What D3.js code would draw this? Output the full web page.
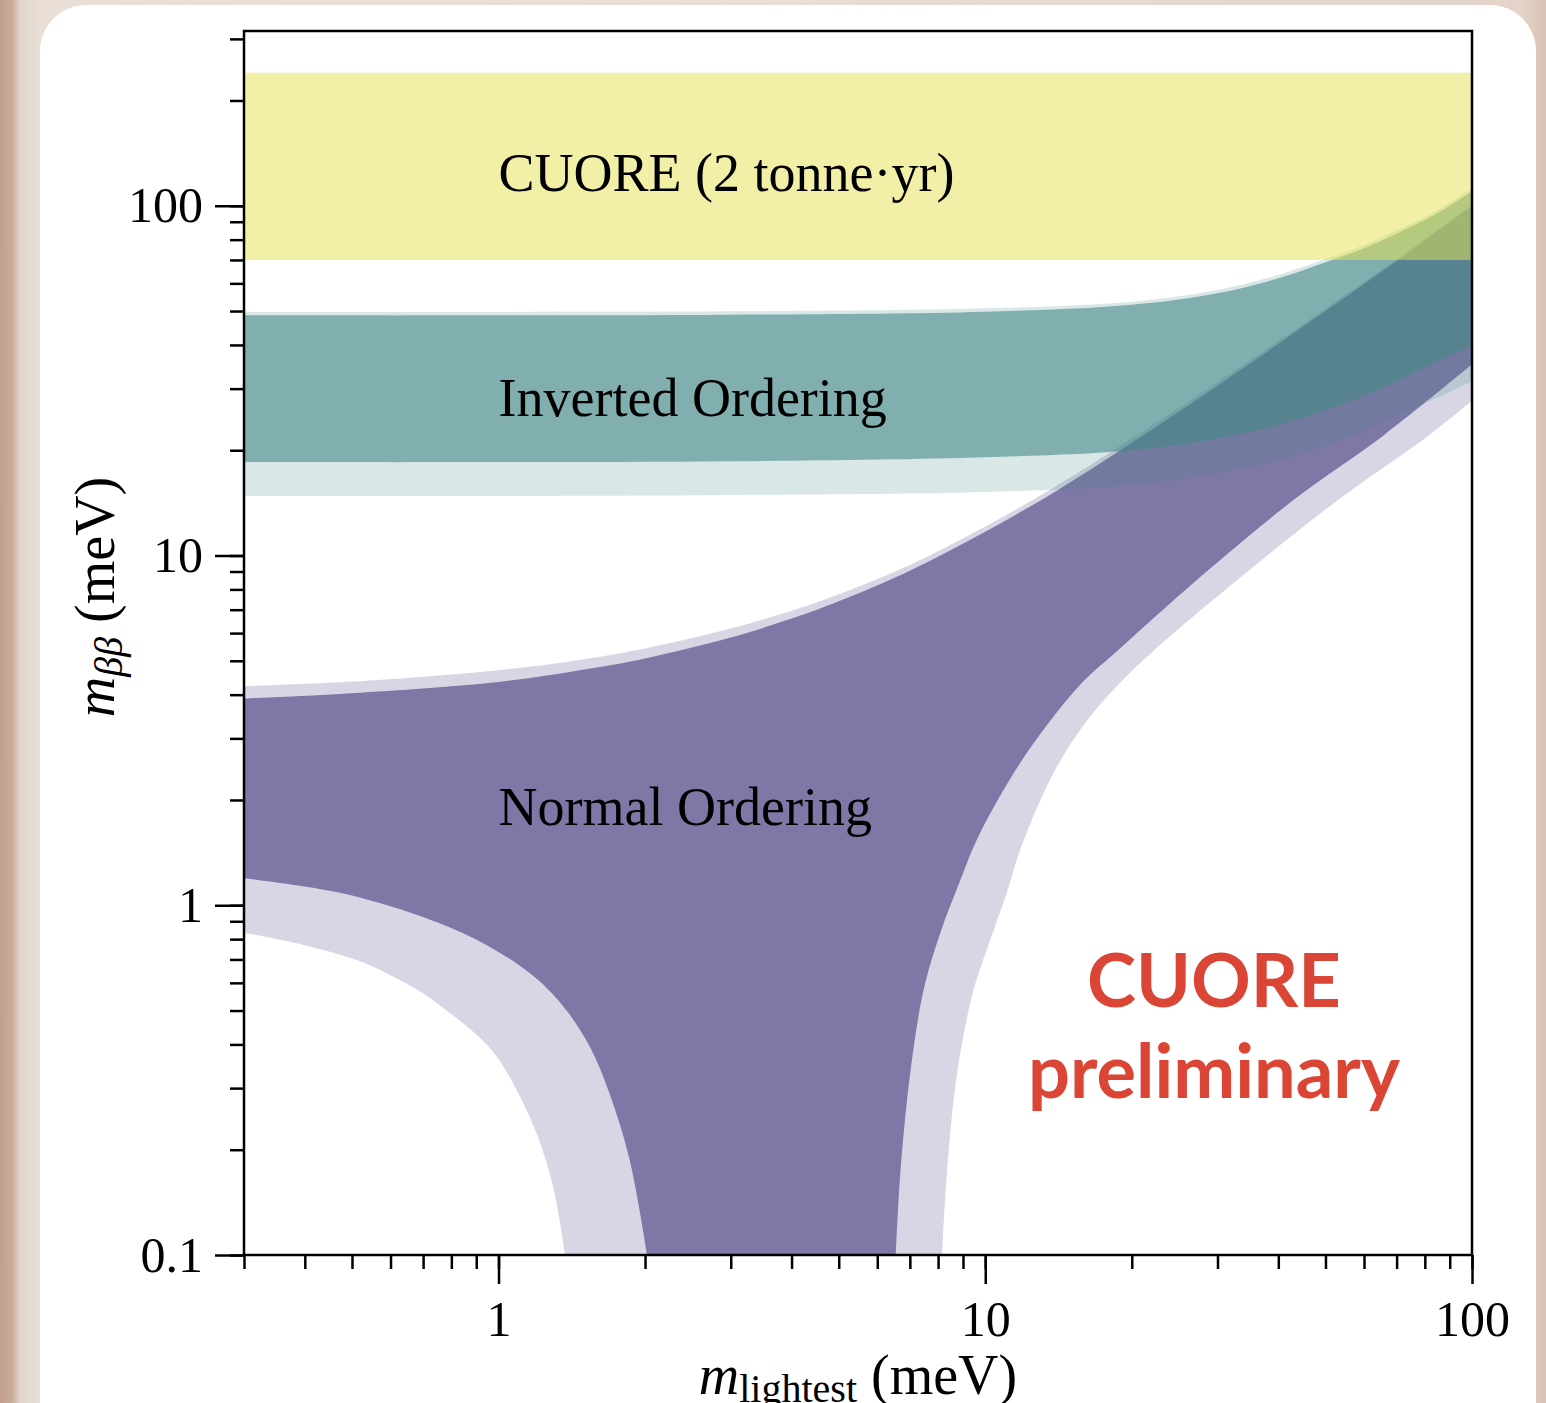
<!DOCTYPE html>
<html>
<head>
<meta charset="utf-8">
<script src="https://cdn.jsdelivr.net/npm/d3@7"></script>
<style>
body { margin: 0; background: #e6dbd1; }
svg { display: block; }
text { font-family: "Liberation Serif", "Times New Roman", serif; }
</style>
</head>
<body>
<div id="main"></div>
<script>
// axis ranges and tick labels
var xDomain = [0.3, 100];
var yDomain = [0.1, 316];
var xMajor = [1, 10, 100];
var xMajorLabels = ["1", "10", "100"];
var yMajor = [0.1, 1, 10, 100];
var yMajorLabels = ["0.1", "1", "10", "100"];

// CUORE limit band (meV)
var cuoreBand = [70, 240];

// inverted ordering, edges (m_lightest -> m_bb, meV)
var ioMl  = [0.3, 1, 3, 10, 20, 30, 40, 50, 60, 70, 85, 100];
var io3Up = [49.7, 49.7, 49.9, 50.9, 53.2, 57.4, 63.4, 70.4, 77.2, 85.0, 97.3, 112];
var io1Up = [48.6, 48.6, 48.8, 49.8, 52.1, 56.2, 62.0, 68.9, 75.6, 83.2, 95.3, 110];
var io1Lo = [18.5, 18.5, 18.6, 19.1, 20.0, 21.6, 23.6, 26.0, 28.6, 31.5, 35.8, 40.0];
var io3Lo = [14.8, 14.8, 14.9, 15.2, 15.9, 17.2, 18.7, 20.6, 22.6, 24.9, 28.3, 31.5];

// normal ordering, upper edges
var noMl  = [0.3, 0.5, 1, 1.5, 2, 3, 4, 5, 7, 10, 14, 20, 30, 50, 70, 100];
var no3Up = [4.23, 4.36, 4.70, 5.05, 5.42, 6.18, 6.95, 7.75, 9.40, 12.1, 15.8, 21.6, 31.3, 50.8, 70.4, 101];
var no1Up = [3.90, 4.04, 4.35, 4.72, 5.08, 5.83, 6.60, 7.40, 9.05, 11.7, 15.3, 21.0, 30.6, 50.0, 69.5, 100];

// normal ordering, lower edge left of the funnel
var no3LeftM = [0.3, 0.397, 0.511, 0.608, 0.700, 0.795, 0.902, 0.992, 1.09, 1.198, 1.296, 1.37];
var no3LeftV = [0.835, 0.770, 0.697, 0.625, 0.560, 0.491, 0.426, 0.369, 0.296, 0.222, 0.156, 0.1];
var no1LeftM = [0.3, 0.495, 0.846, 1.16, 1.36, 1.54, 1.69, 1.86, 2.02];
var no1LeftV = [1.195, 1.07, 0.832, 0.639, 0.513, 0.394, 0.290, 0.187, 0.1];

// normal ordering, lower edge right of the funnel
var no3RightM = [8.15, 8.34, 8.75, 9.46, 10.24, 11.08, 11.9, 13.94, 16.31, 19.06, 22.3, 35.0, 53.2, 81.0, 100];
var no3RightV = [0.1, 0.171, 0.330, 0.572, 0.796, 1.09, 1.49, 2.45, 3.42, 4.37, 5.38, 9.12, 14.45, 21.9, 27.7];
var no1RightM = [6.55, 6.69, 7.01, 7.47, 8.08, 8.89, 9.61, 11.36, 13.43, 15.89, 18.8, 28.3, 43.1, 65.7, 100];
var no1RightV = [0.1, 0.171, 0.330, 0.572, 0.832, 1.18, 1.54, 2.35, 3.29, 4.36, 5.38, 8.92, 14.45, 22.0, 35.2];

// in-plot labels (anchored at m_lightest, m_bb)
var labelText = ["CUORE (2 tonne\u00b7yr)", "Inverted Ordering", "Normal Ordering"];
var labelM = [1, 1, 1];
var labelV = [110, 25, 1.7];

var W = 1546, H = 1403;
var pLeft = 244, pRight = 1472, pTop = 31, pBottom = 1255;

var svg = d3.select("#main").append("svg").attr("width", W).attr("height", H);
var defs = svg.append("defs");

// blurred photo behind the card, roughly
var bg = defs.append("linearGradient").attr("id", "bg")
	.attr("x1", 0).attr("x2", 1).attr("y1", 0).attr("y2", 0);
[[0, "#bf9f89"], [0.008, "#c8ad99"], [0.013, "#e2d5ca"], [0.026, "#e9dfd6"],
 [0.5, "#e8ded5"], [0.985, "#e3d3c8"], [1, "#d8c2b3"]].forEach(function(s){
	bg.append("stop").attr("offset", s[0]).attr("stop-color", s[1]);
});
svg.append("rect").attr("width", W).attr("height", H).attr("fill", "url(#bg)");
svg.append("rect").attr("x", 40).attr("y", 5).attr("width", 1496).attr("height", 1500)
	.attr("rx", 46).attr("fill", "#fff");

defs.append("clipPath").attr("id", "plotclip").append("rect")
	.attr("x", pLeft).attr("y", pTop).attr("width", pRight - pLeft).attr("height", pBottom - pTop);

var x = d3.scaleLog().domain(xDomain).range([pLeft, pRight]);
var y = d3.scaleLog().domain(yDomain).range([pBottom, pTop]);

function pts(ms, vs){
	return ms.map(function(m, i){ return [x(m), y(vs[i])]; });
}
var line = d3.line().curve(d3.curveCatmullRom.alpha(0.5));
function joinPath(parts){
	return parts.map(function(p, i){
		var s = line(p);
		return i == 0 ? s : s.replace(/^M/, "L");
	}).join("") + "Z";
}

var plot = svg.append("g").attr("clip-path", "url(#plotclip)");

var noCol = "rgb(60,50,120)";
var ioCol = "rgb(70,136,136)";

// normal ordering: 3 sigma then 1 sigma
plot.append("path")
	.attr("d", joinPath([pts(noMl, no3Up), pts(no3RightM, no3RightV).reverse(), pts(no3LeftM, no3LeftV).reverse()]))
	.attr("fill", noCol).attr("fill-opacity", 0.2);
plot.append("path")
	.attr("d", joinPath([pts(noMl, no1Up), pts(no1RightM, no1RightV).reverse(), pts(no1LeftM, no1LeftV).reverse()]))
	.attr("fill", noCol).attr("fill-opacity", 0.575);

// inverted ordering
plot.append("path")
	.attr("d", joinPath([pts(ioMl, io3Up), pts(ioMl, io3Lo).reverse()]))
	.attr("fill", ioCol).attr("fill-opacity", 0.2);
plot.append("path")
	.attr("d", joinPath([pts(ioMl, io1Up), pts(ioMl, io1Lo).reverse()]))
	.attr("fill", ioCol).attr("fill-opacity", 0.6);

// CUORE band
plot.append("rect")
	.attr("x", x(xDomain[0])).attr("width", x(xDomain[1]) - x(xDomain[0]))
	.attr("y", y(cuoreBand[1])).attr("height", y(cuoreBand[0]) - y(cuoreBand[1]))
	.attr("fill", "rgb(230,226,84)").attr("fill-opacity", 0.52);

// labels
svg.selectAll("text.lbl").data(labelText).enter()
	.append("text").attr("class", "lbl")
	.attr("x", function(d, i){ return x(labelM[i]); })
	.attr("y", function(d, i){ return y(labelV[i]); })
	.attr("font-size", 54).attr("fill", "#000")
	.text(function(d){ return d; });

// axes
function styleAxis(g){
	g.select(".domain").remove();
	g.selectAll(".tick line").attr("stroke", "#000").attr("stroke-width", 2.5);
	g.selectAll(".tick text").attr("font-family", "Liberation Serif").attr("font-size", 50).attr("fill", "#000");
}
svg.append("g").attr("transform", "translate(" + pLeft + ",0)")
	.call(d3.axisLeft(y).tickValues(y.ticks()).tickSize(14).tickSizeOuter(0).tickFormat(""))
	.call(styleAxis);
svg.append("g").attr("transform", "translate(" + pLeft + ",0)")
	.call(d3.axisLeft(y).tickValues(yMajor).tickSize(29).tickSizeOuter(0).tickPadding(12)
		.tickFormat(function(d, i){ return yMajorLabels[i]; }))
	.call(styleAxis);
svg.append("g").attr("transform", "translate(0," + pBottom + ")")
	.call(d3.axisBottom(x).tickValues(x.ticks()).tickSize(14).tickSizeOuter(0).tickFormat(""))
	.call(styleAxis);
svg.append("g").attr("transform", "translate(0," + pBottom + ")")
	.call(d3.axisBottom(x).tickValues(xMajor).tickSize(29).tickSizeOuter(0).tickPadding(16)
		.tickFormat(function(d, i){ return xMajorLabels[i]; }))
	.call(styleAxis);

// frame
svg.append("rect").attr("x", pLeft).attr("y", pTop).attr("width", pRight - pLeft).attr("height", pBottom - pTop)
	.attr("fill", "none").attr("stroke", "#000").attr("stroke-width", 2.5);

// axis titles
var xt = svg.append("text").attr("x", (pLeft + pRight) / 2).attr("y", 1394)
	.attr("text-anchor", "middle").attr("font-size", 56).attr("fill", "#000");
xt.append("tspan").attr("font-style", "italic").text("m");
xt.append("tspan").attr("font-size", 40).attr("dy", 8).text("lightest");
xt.append("tspan").attr("dy", -8).attr("dx", 14).text("(meV)");

var yt = svg.append("text").attr("transform", "translate(114,597) rotate(-90)")
	.attr("text-anchor", "middle").attr("font-size", 56).attr("fill", "#000");
yt.append("tspan").attr("font-style", "italic").text("m");
yt.append("tspan").attr("font-style", "italic").attr("font-size", 40).attr("dy", 8).text("\u03b2\u03b2");
yt.append("tspan").attr("dy", -8).attr("dx", 14).text("(meV)");

// watermark
var wm = svg.append("g").attr("text-anchor", "middle");
["CUORE", "preliminary"].forEach(function(t, i){
	wm.append("text").attr("x", 1214).attr("y", i == 0 ? 1007 : 1098)
		.style("font-family", "Lato").style("font-weight", "bold").style("font-size", "74px")
		.style("fill", "#db4535").text(t);
});
</script>
</body>
</html>
